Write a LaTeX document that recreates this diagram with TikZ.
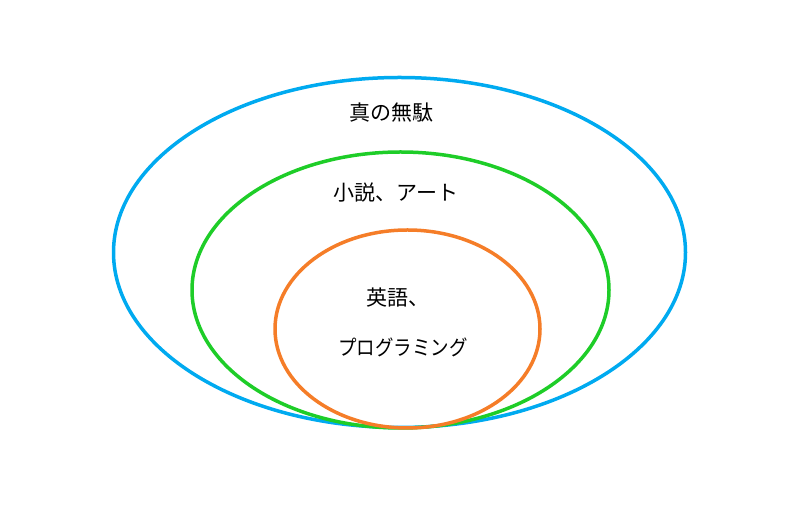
\documentclass[tikz,border=0pt]{standalone}
\usepackage{fontspec}
\newfontfamily\cjk{Noto Sans CJK JP}
\begin{document}
\begin{tikzpicture}[x=1pt,y=1pt,
  ring/.style={line width=3.5pt},
  lbl/.style={font=\cjk\fontsize{21}{26}\selectfont, inner sep=0pt}]
\useasboundingbox (0,0) rectangle (800,508);
\draw[ring, color={rgb,255:red,0;green,170;blue,240}] (399.5,255.5) ellipse [x radius=286, y radius=175];
\draw[ring, color={rgb,255:red,30;green,205;blue,40}] (400.5,218) ellipse [x radius=208.5, y radius=138];
\draw[ring, color={rgb,255:red,245;green,125;blue,40}] (407.5,179) ellipse [x radius=132.5, y radius=99];
\node[lbl] (t1) at (391,395) {真の無駄};
\node[lbl] (t2) at (396,315) {小説、アート};
\node[lbl] (t3) at (398,210) {英語、};
\node[lbl, xscale=0.88] (t4) at (403,161) {プログラミング};
\end{tikzpicture}
\end{document}
